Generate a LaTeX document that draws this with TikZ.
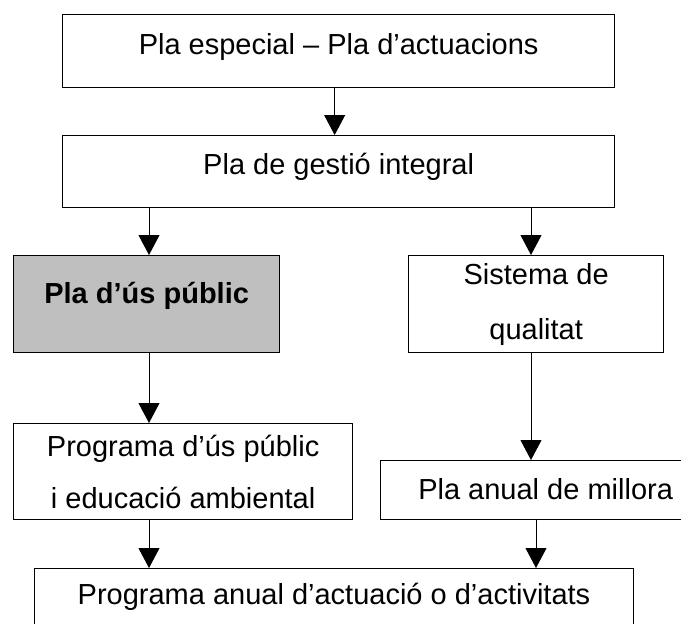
\documentclass[tikz,border=0pt]{standalone}
\usepackage{fontspec}
\setmainfont{Liberation Sans}
\usetikzlibrary{arrows.meta}
\definecolor{grisclar}{rgb}{0.75,0.75,0.75}
\tikzset{
  caixa/.style={
    draw=black,
    line width=1.3pt,
    fill=white,
    anchor=north west,
    align=center,
    inner sep=0pt,
    font=\fontsize{29}{55}\selectfont
  },
  destacat/.style={
    caixa,
    fill=grisclar,
    font=\fontsize{29}{55}\selectfont\bfseries
  },
  alt/.style={
    text height=21pt,
    text depth=#1
  },
  fletxa/.style={
    -{Triangle[length=20pt,width=21pt]},
    line width=1pt
  }
}

\begin{document}
\begin{tikzpicture}[x=1pt,y=-1pt]
\useasboundingbox (0,0) rectangle (681,624);
\coordinate (esq) at (149,0);
\coordinate (dre) at (531,0);
\coordinate (dre2) at (536,0);
\node[caixa,alt=15pt,minimum width=552pt,minimum height=73pt] (a) at (62,14) {Pla especial – Pla d’actuacions};
\node[caixa,alt=16pt,minimum width=552pt,minimum height=72pt] (b) at (62,135) {Pla de gestió integral};
\node[destacat,alt=23pt,minimum width=266pt,minimum height=97pt] (c) at (13,255) {Pla d’ús públic};
\node[caixa,minimum width=255pt,minimum height=97pt] (d) at (408,255) {Sistema de\\qualitat};
\node[caixa,font=\fontsize{29}{52}\selectfont,minimum width=339pt,minimum height=96pt] (e) at (13,423) {Programa d’ús públic\\i educació ambiental};
\node[caixa,alt=3pt,minimum width=330pt,minimum height=59pt] (f) at (380,460) {Pla anual de millora};
\node[caixa,alt=23pt,line width=1pt,minimum width=599pt,minimum height=73pt] (g) at (34,568) {Programa anual d’actuació o d’activitats};
\draw[fletxa] ([xshift=-4pt]a.south) -- ([xshift=-4pt]b.north);
\draw[fletxa] (b.south -| esq) -- (c.north -| esq);
\draw[fletxa] (b.south -| dre) -- (d.north -| dre);
\draw[fletxa] (c.south -| esq) -- (e.north -| esq);
\draw[fletxa] (d.south -| dre) -- (f.north -| dre);
\draw[fletxa] (e.south -| esq) -- (g.north -| esq);
\draw[fletxa] (f.south -| dre2) -- (g.north -| dre2);
\end{tikzpicture}
\end{document}
